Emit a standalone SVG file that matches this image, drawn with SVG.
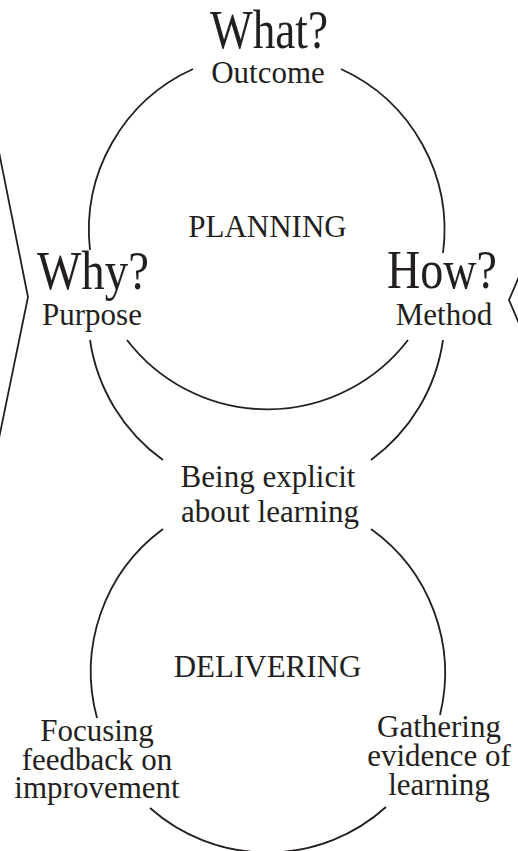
<svg xmlns="http://www.w3.org/2000/svg" width="518" height="851" viewBox="0 0 518 851">
<style>
text{font-family:"Liberation Serif","Times New Roman",serif;fill:#231f20;text-anchor:middle}
.big{font-size:54px}
.mid{font-size:31px}
.line{fill:none;stroke:#231f20;stroke-width:1.8}
</style>
<rect width="518" height="851" fill="#fff"/>
<g id="planning">
<path class="line" d="M193 69 A177 177 0 0 0 90 250"/>
<path class="line" d="M341 69 A177 177 0 0 1 443 253"/>
<path class="line" d="M127 340 A177 177 0 0 0 408 340"/>
<text class="mid" x="267.5" y="237" font-size="32">PLANNING</text>
</g>
<g id="delivering">
<path class="line" d="M163 529 A177 177 0 0 0 97 718"/>
<path class="line" d="M371 529 A177 177 0 0 1 440 715"/>
<path class="line" d="M150 808 A177 177 0 0 0 386 807"/>
<text class="mid" x="267.5" y="677" font-size="32">DELIVERING</text>
</g>
<g id="connectors">
<path class="line" d="M90 340 A180 180 0 0 0 163 460"/>
<path class="line" d="M443 340 A180 180 0 0 1 371 460"/>
<polyline class="line" points="-3,142 28,297 -3,448"/>
<polyline class="line" points="521,272 509,300 521,328"/>
</g>
<g id="what">
<text class="big" x="269" y="48" textLength="118" lengthAdjust="spacingAndGlyphs">What?</text>
<text class="mid" x="268" y="83">Outcome</text>
</g>
<g id="why">
<text class="big" x="93" y="289" font-size="53" textLength="112" lengthAdjust="spacingAndGlyphs">Why?</text>
<text class="mid" x="92" y="325">Purpose</text>
</g>
<g id="how">
<text class="big" x="442" y="288" font-size="53" textLength="110" lengthAdjust="spacingAndGlyphs">How?</text>
<text class="mid" x="444" y="325">Method</text>
</g>
<g id="explicit">
<text class="mid" x="268" y="487" font-size="32">Being explicit</text>
<text class="mid" x="270" y="522" font-size="32">about learning</text>
</g>
<g id="feedback">
<text class="mid" x="97" y="741">Focusing</text>
<text class="mid" x="97" y="770">feedback on</text>
<text class="mid" x="97" y="798">improvement</text>
</g>
<g id="evidence">
<text class="mid" x="439" y="737">Gathering</text>
<text class="mid" x="439" y="766">evidence of</text>
<text class="mid" x="439" y="795">learning</text>
</g>
</svg>
